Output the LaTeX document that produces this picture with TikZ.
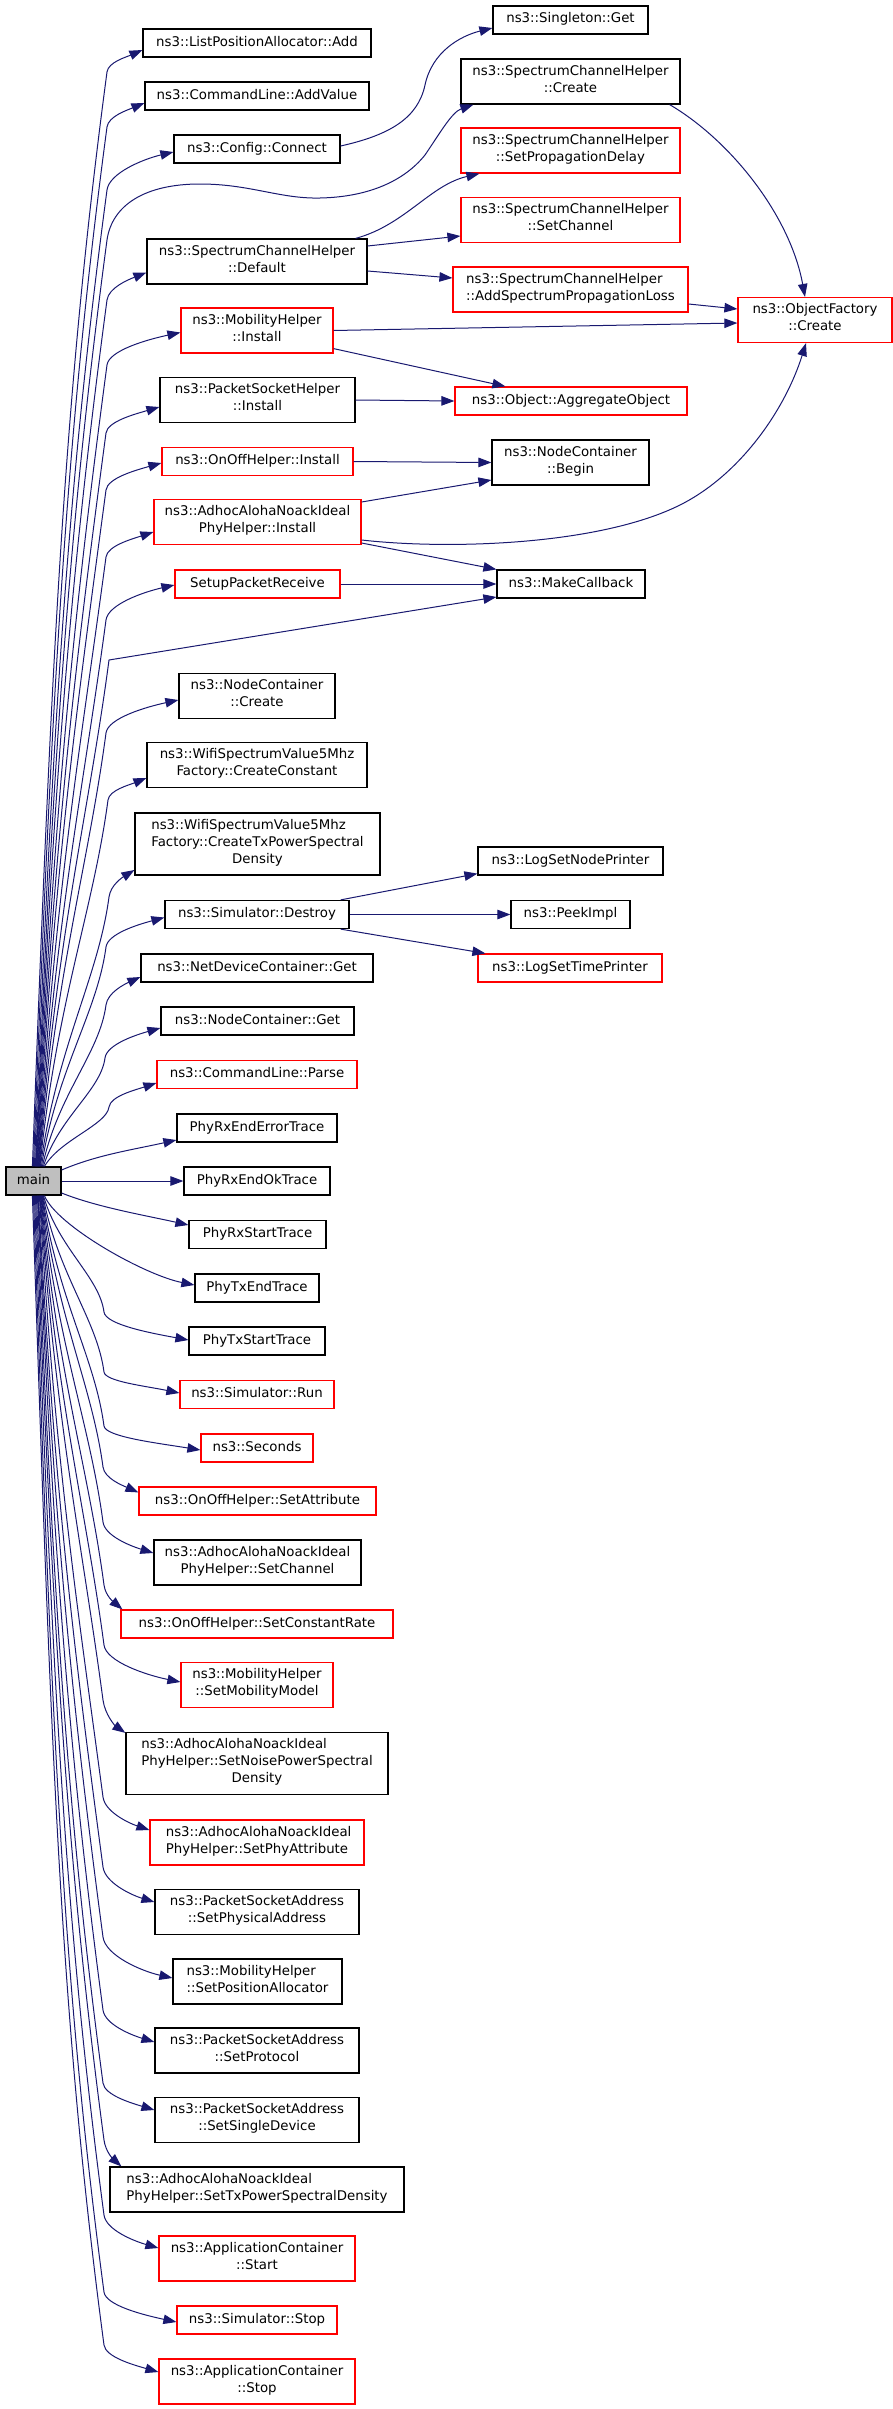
\documentclass[tikz,border=0pt]{standalone}
\usepackage{fontspec}
\setmainfont{DejaVu Sans}
\usetikzlibrary{arrows.meta,calc}
\definecolor{edgec}{HTML}{191970}
\definecolor{rboxc}{HTML}{FF0000}
\definecolor{gfill}{HTML}{BFBFBF}
\newcommand\sk{\rule[-5.5pt]{0pt}{17pt}}
\newcommand\nl{\\\sk}
\newcommand\lline[2]{\setbox0\hbox{#2}\makebox[\wd0][l]{#1}\nl #2}
% upper edge: #1 start x on main top, #2 anchor, #3 offset, #4 bend x, #5 bend y
\newcommand\upE[5]{%
 \path ($(#2)+(#3)$); \pgfgetlastxy{\tmpx}{\tmpy}%
 \pgfmathsetmacro\TX{\tmpx}\pgfmathsetmacro\TY{0-(\tmpy)}%
 \pgfmathsetmacro\LL{1167-#5}%
 \pgfmathsetmacro\DY{#5-\TY}\pgfmathsetmacro\DX{\TX-#4}%
 \draw[edge] ($(main.north west)+(#1-6,0)$) .. controls +({(#4-#1)*0.25},{-0.45*\LL}) and +({-0.04*\LL},{0.3*\LL}) .. (#4,#5)
   .. controls +({0.06*\DY},{-0.45*\DY}) and +({-0.45*\DX},7) .. ($(#2)+(#3)$);
}
\newcommand\dnE[5]{%
 \path ($(#2)+(#3)$); \pgfgetlastxy{\tmpx}{\tmpy}%
 \pgfmathsetmacro\TX{\tmpx}\pgfmathsetmacro\TY{0-(\tmpy)}%
 \pgfmathsetmacro\LL{#5-1195}%
 \pgfmathsetmacro\DY{\TY-#5}\pgfmathsetmacro\DX{\TX-#4}%
 \draw[edge] ($(main.south west)+(#1-6,0)$) .. controls +({(#4-#1)*0.25},{0.45*\LL}) and +({-0.04*\LL},{-0.3*\LL}) .. (#4,#5)
   .. controls +({0.06*\DY},{0.45*\DY}) and +({-0.45*\DX},-7) .. ($(#2)+(#3)$);
}
\begin{document}
\begin{tikzpicture}[x=1pt,y=-1pt,
  box/.style={draw=black, line width=1.2pt, inner sep=0pt, align=center,
    font=\fontsize{13.33}{17}\selectfont, execute at begin node=\sk},
  rbox/.style={box, draw=rboxc},
  edge/.style={draw=edgec, line width=1pt, -{Triangle[length=13pt,width=9.5pt]}}]
\useasboundingbox (0,0) rectangle (893,2409);

\node[box,minimum width=228,minimum height=28] (lpa) at (257,43) {ns3::ListPositionAllocator::Add};
\node[box,minimum width=224,minimum height=28] (clav) at (257,96) {ns3::CommandLine::AddValue};
\node[box,minimum width=166,minimum height=28] (cfg) at (257,149) {ns3::Config::Connect};
\node[box,minimum width=155,minimum height=28] (sing) at (570.5,20) {ns3::Singleton::Get};
\node[box,minimum width=219,minimum height=45] (schc) at (570.5,81.5) {ns3::SpectrumChannelHelper\nl ::Create};
\node[rbox,minimum width=219,minimum height=45] (schpd) at (570.5,150.5) {ns3::SpectrumChannelHelper\nl ::SetPropagationDelay};
\node[rbox,minimum width=219,minimum height=45] (schsc) at (570.5,220) {ns3::SpectrumChannelHelper\nl ::SetChannel};
\node[rbox,minimum width=235,minimum height=45] (schal) at (570.5,289.5) {\lline{ns3::SpectrumChannelHelper}{::AddSpectrumPropagationLoss}};
\node[rbox,minimum width=154,minimum height=45] (ofc) at (815,320) {ns3::ObjectFactory\nl ::Create};
\node[box,minimum width=220,minimum height=45] (schd) at (257,261.5) {ns3::SpectrumChannelHelper\nl ::Default};
\node[rbox,minimum width=152,minimum height=45] (mhi) at (257,330.5) {ns3::MobilityHelper\nl ::Install};
\node[box,minimum width=195,minimum height=45] (pshi) at (257.5,400) {ns3::PacketSocketHelper\nl ::Install};
\node[rbox,minimum width=232,minimum height=28] (oag) at (571,401) {ns3::Object::AggregateObject};
\node[rbox,minimum width=191,minimum height=28] (ooi) at (257.5,461.5) {ns3::OnOffHelper::Install};
\node[box,minimum width=157,minimum height=45] (ncb) at (570.5,462.5) {ns3::NodeContainer\nl ::Begin};
\node[rbox,minimum width=207,minimum height=45] (api) at (257.5,522) {ns3::AdhocAlohaNoackIdeal\nl PhyHelper::Install};
\node[rbox,minimum width=165,minimum height=28] (spr) at (257.5,584) {SetupPacketReceive};
\node[box,minimum width=148,minimum height=28] (mcb) at (571,584) {ns3::MakeCallback};
\node[box,minimum width=156,minimum height=45] (ncc) at (257,696) {ns3::NodeContainer\nl ::Create};
\node[box,minimum width=220,minimum height=45] (wcc) at (257,765) {ns3::WifiSpectrumValue5Mhz\nl Factory::CreateConstant};
\node[box,minimum width=245,minimum height=62] (wct) at (257.5,844) {\lline{ns3::WifiSpectrumValue5Mhz}{Factory::CreateTxPowerSpectral}\nl Density};
\node[box,minimum width=185,minimum height=28] (lsnp) at (570.5,861) {ns3::LogSetNodePrinter};
\node[box,minimum width=184,minimum height=28] (sdes) at (257,914.5) {ns3::Simulator::Destroy};
\node[box,minimum width=119,minimum height=28] (peek) at (570.5,914.5) {ns3::PeekImpl};
\node[rbox,minimum width=184,minimum height=28] (lstp) at (570,968) {ns3::LogSetTimePrinter};
\node[box,minimum width=232,minimum height=28] (ndcg) at (257,968) {ns3::NetDeviceContainer::Get};
\node[box,minimum width=193,minimum height=28] (ncg) at (257.5,1021) {ns3::NodeContainer::Get};
\node[rbox,minimum width=200,minimum height=28] (clp) at (257,1074.5) {ns3::CommandLine::Parse};
\node[box,minimum width=160,minimum height=28] (pree) at (257,1128) {PhyRxEndErrorTrace};
\node[box,fill=gfill,minimum width=55,minimum height=28] (main) at (33.5,1181) {main};
\node[box,minimum width=146,minimum height=28] (preo) at (257,1181) {PhyRxEndOkTrace};
\node[box,minimum width=137,minimum height=28] (prst) at (257.5,1234.5) {PhyRxStartTrace};
\node[box,minimum width=124,minimum height=28] (pte) at (257,1288) {PhyTxEndTrace};
\node[box,minimum width=136,minimum height=28] (pts) at (257,1341) {PhyTxStartTrace};
\node[rbox,minimum width=154,minimum height=28] (srun) at (257,1394.5) {ns3::Simulator::Run};
\node[rbox,minimum width=112,minimum height=28] (secs) at (257,1448) {ns3::Seconds};
\node[rbox,minimum width=237,minimum height=28] (oosa) at (257.5,1501) {ns3::OnOffHelper::SetAttribute};
\node[box,minimum width=207,minimum height=45] (asc) at (257.5,1562.5) {ns3::AdhocAlohaNoackIdeal\nl PhyHelper::SetChannel};
\node[rbox,minimum width=272,minimum height=28] (oocr) at (257,1624) {ns3::OnOffHelper::SetConstantRate};
\node[rbox,minimum width=152,minimum height=45] (mhsm) at (257,1685) {ns3::MobilityHelper\nl ::SetMobilityModel};
\node[box,minimum width=262,minimum height=62] (anp) at (257,1763.5) {\lline{ns3::AdhocAlohaNoackIdeal}{PhyHelper::SetNoisePowerSpectral}\nl Density};
\node[rbox,minimum width=214,minimum height=45] (apa) at (257,1842.5) {\lline{ns3::AdhocAlohaNoackIdeal}{PhyHelper::SetPhyAttribute}};
\node[box,minimum width=204,minimum height=45] (psap) at (257,1912) {ns3::PacketSocketAddress\nl ::SetPhysicalAddress};
\node[box,minimum width=169,minimum height=45] (mhpa) at (257.5,1981.5) {\lline{ns3::MobilityHelper}{::SetPositionAllocator}};
\node[box,minimum width=204,minimum height=45] (psapr) at (257,2050.5) {ns3::PacketSocketAddress\nl ::SetProtocol};
\node[box,minimum width=204,minimum height=45] (psasd) at (257,2120) {ns3::PacketSocketAddress\nl ::SetSingleDevice};
\node[box,minimum width=294,minimum height=45] (atx) at (257,2189.5) {\lline{ns3::AdhocAlohaNoackIdeal}{PhyHelper::SetTxPowerSpectralDensity}};
\node[rbox,minimum width=196,minimum height=45] (acst) at (257,2258.5) {ns3::ApplicationContainer\nl ::Start};
\node[rbox,minimum width=160,minimum height=28] (sstop) at (257,2320) {ns3::Simulator::Stop};
\node[rbox,minimum width=196,minimum height=45] (acsp) at (257,2381.5) {ns3::ApplicationContainer\nl ::Stop};

% edges from main, upwards
\upE{33}{lpa.west}{0,7}{107}{72}
\upE{34}{clav.west}{0,7}{107}{127}
\upE{35}{cfg.west}{0,3}{107}{190}
\draw[edge] ($(main.north west)+(30,0)$) .. controls +(17.75,-417) and +(-37,278) .. (107,240)
  .. controls (112,205) and (145,184) .. (200,184) .. controls (250,184) and (280,199) .. (320,198)
  .. controls (370,197) and (405,180) .. (425,155) .. controls (440,133) and (452,112) .. ($(schc.south west)+(13,0)$);
\upE{36.5}{schd.west}{0,11}{107}{300}
\upE{37}{mhi.west}{0,2}{107}{365}
\upE{37.5}{pshi.west}{0,7}{106}{433}
\upE{38}{ooi.west}{0,1.5}{106}{490}
\upE{38.5}{api.west}{0,10}{106}{557}
\upE{39}{spr.west}{0,1}{106}{620}
\draw[edge] ($(main.north west)+(33.5,0)$) .. controls +(17,-228) and +(-20,152) .. (109,660) -- ($(mcb.west)+(0,13)$);
\upE{40}{ncc.west}{0,4}{106}{733}
\upE{40.5}{wcc.west}{0,13}{108}{800}
\upE{41}{wct.west}{0,26}{109}{897}
\upE{42}{sdes.west}{0,3}{106}{947}
\upE{43}{ndcg.west}{0,9}{106}{1005}
\upE{44}{ncg.west}{0,7}{105}{1058}
\upE{45}{clp.west}{0,8.5}{109}{1107}
\draw[edge] ($(main.east)+(0,-11)$) .. controls +(35,-15) and +(-45,10) .. ($(pree.west)+(0,12)$);
\draw[edge] (main.east) -- (preo.west);
\draw[edge] ($(main.east)+(0,12)$) .. controls +(35,14) and +(-45,-10) .. ($(prst.west)+(0,-9.5)$);
\draw[edge] ($(main.south west)+(39,0)$) .. controls +(12,30) and +(-50,-10) .. ($(pte.west)+(0,-3)$);
% downwards
\dnE{44}{pts.west}{0,-1}{104}{1312}
\dnE{43.5}{srun.west}{0,-1.5}{104}{1372}
\dnE{43}{secs.west}{0,2}{104}{1426}
\dnE{42.5}{oosa.north west}{0,6}{103}{1467}
\dnE{42}{asc.west}{0,-9.5}{103}{1522}
\dnE{41.5}{oocr.north west}{2,0}{104}{1585}
\dnE{41}{mhsm.west}{0,-3}{104}{1645}
\dnE{40.5}{anp.north west}{0,1}{103}{1700}
\dnE{40}{apa.west}{0,-12.5}{103}{1797}
\dnE{39}{psap.west}{0,-10}{103}{1867}
\dnE{38.5}{mhpa.west}{0,-3.5}{103}{1937}
\dnE{38}{psapr.west}{0,-8.5}{103}{2010}
\dnE{37}{psasd.west}{0,-10}{103}{2083}
\dnE{36}{atx.north west}{12,0}{104}{2140}
\dnE{35}{acst.west}{0,-10.5}{104}{2215}
\dnE{34}{sstop.west}{0,2}{104}{2292}
\dnE{33}{acsp.west}{0,-9.5}{104}{2345}

% other edges
\draw[edge] ($(cfg.east)+(0,-3)$) .. controls (390,135) and (418,118) .. (425,85) .. controls (432,52) and (460,36) .. ($(sing.west)+(0,8)$);
\draw[edge] ($(schc.south east)+(-11,0)$) .. controls (730,140) and (790,215) .. ($(ofc.north)+(-10,0)$);
\draw[edge] ($(schd.north east)+(-12,0)$) .. controls (405,225) and (430,185) .. ($(schpd.south west)+(19,0)$);
\draw[edge] ($(schd.east)+(0,-15.5)$) -- ($(schsc.west)+(0,16)$);
\draw[edge] ($(schd.east)+(0,9.5)$) -- ($(schal.west)+(0,-11.5)$);
\draw[edge] ($(schal.east)+(0,14.5)$) -- ($(ofc.west)+(0,-11)$);
\draw[edge] (mhi.east) -- ($(ofc.west)+(0,3)$);
\draw[edge] ($(mhi.south east)+(0,-5)$) -- ($(oag.north west)+(51,0)$);
\draw[edge] (pshi.east) -- (oag.west);
\draw[edge] (ooi.east) -- (ncb.west);
\draw[edge] ($(api.east)+(0,-20)$) -- ($(ncb.west)+(0,17.5)$);
\draw[edge] ($(api.east)+(0,18)$) .. controls (450,550) and (600,545) .. (680,505) .. controls (740,475) and (785,410) .. ($(ofc.south)+(-9,0)$);
\draw[edge] ($(api.east)+(0,21)$) -- (mcb.north west);
\draw[edge] (spr.east) -- (mcb.west);
\draw[edge] ($(sdes.north east)+(-9,0)$) -- ($(lsnp.south west)+(0,-2)$);
\draw[edge] (sdes.east) -- (peek.west);
\draw[edge] ($(sdes.south east)+(-9,0)$) -- ($(lstp.north west)+(8,0)$);
\end{tikzpicture}
\end{document}
